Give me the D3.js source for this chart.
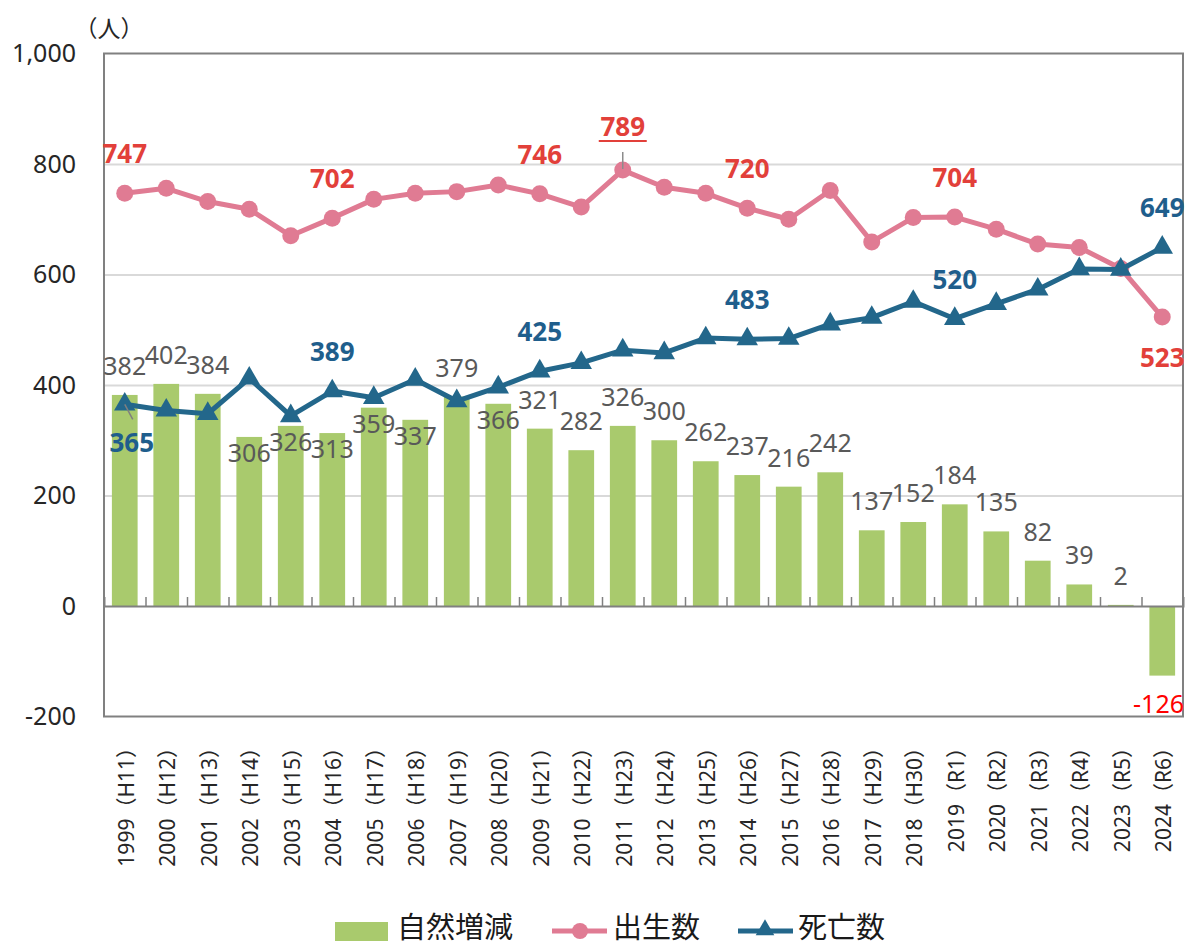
<!DOCTYPE html>
<html>
<head>
<meta charset="utf-8">
<script src="https://cdn.jsdelivr.net/npm/d3@7"></script>
<style>
  body { margin: 0; background: #fff; }
  svg { display: block; }
</style>
</head>
<body>
<svg id="chart" width="1187" height="945"></svg>
<script>
// data
const years = [1999, 2000, 2001, 2002, 2003, 2004, 2005, 2006, 2007, 2008, 2009, 2010, 2011,
  2012, 2013, 2014, 2015, 2016, 2017, 2018, 2019, 2020, 2021, 2022, 2023, 2024];
const eras = ['H11', 'H12', 'H13', 'H14', 'H15', 'H16', 'H17', 'H18', 'H19', 'H20', 'H21', 'H22', 'H23',
  'H24', 'H25', 'H26', 'H27', 'H28', 'H29', 'H30', 'R1', 'R2', 'R3', 'R4', 'R5', 'R6'];
const naturalChange = [382, 402, 384, 306, 326, 313, 359, 337, 379, 366, 321, 282, 326,
  300, 262, 237, 216, 242, 137, 152, 184, 135, 82, 39, 2, -126];
const births = [747, 756, 732, 718, 670, 702, 736, 747, 750, 762, 746, 722, 789,
  758, 747, 720, 700, 752, 659, 703, 704, 682, 655, 649, 611, 523];
const deaths = [365, 354, 348, 412, 344, 389, 377, 410, 371, 396, 425, 440, 463,
  458, 485, 483, 484, 510, 522, 551, 520, 547, 573, 610, 609, 649];
const yTicks = [-200, 0, 200, 400, 600, 800, 1000];
const seriesNames = ['自然増減', '出生数', '死亡数'];
const unitLabel = '（人）';

// which points get a value label on the lines
const birthLabelYears = [1999, 2004, 2009, 2011, 2014, 2019, 2024];
const deathLabelYears = [1999, 2004, 2009, 2014, 2019, 2024];
// bar labels that sit just under the bar top instead of above it
const barLabelsInside = new Set([2002, 2003, 2004, 2005, 2006, 2008]);

const colors = {
  bar: '#a9ca6d',
  birth: '#e07b93',
  death: '#23678b',
  birthText: '#e2403a',
  deathText: '#1f5e8c',
  barText: '#595959',
  grid: '#d9d9d9',
  frame: '#808080'
};

const svg = d3.select('#chart');
const plotLeft = 104, plotRight = 1183, plotTop = 53.5, plotBottom = 716.5;

const cats = years.map((y, i) => `${y}（${eras[i]}）`);
const x = d3.scaleBand().domain(cats).range([plotLeft, plotRight]).padding(0);
const y = d3.scaleLinear().domain([-200, 1000]).range([plotBottom, plotTop]);
const cx = i => x(cats[i]) + x.bandwidth() / 2;

const rows = years.map((yr, i) => ({
  i, year: yr, cat: cats[i], nat: naturalChange[i], birth: births[i], death: deaths[i]
}));

// gridlines
svg.append('g')
  .attr('transform', `translate(${plotLeft},0)`)
  .call(d3.axisLeft(y).tickValues([200, 400, 600, 800]).tickSize(-(plotRight - plotLeft)).tickFormat(''))
  .call(g => g.select('.domain').remove())
  .call(g => g.selectAll('line').attr('stroke', colors.grid).attr('stroke-width', 2));

// bars
const bw = x.bandwidth() * 0.62;
svg.append('g').selectAll('rect')
  .data(rows)
  .join('rect')
  .attr('x', d => cx(d.i) - bw / 2)
  .attr('y', d => y(Math.max(0, d.nat)))
  .attr('width', bw)
  .attr('height', d => Math.abs(y(d.nat) - y(0)))
  .attr('fill', colors.bar);

// frame
svg.append('rect')
  .attr('x', plotLeft).attr('y', plotTop)
  .attr('width', plotRight - plotLeft).attr('height', plotBottom - plotTop)
  .attr('fill', 'none')
  .attr('stroke', colors.frame)
  .attr('stroke-width', 2);

// zero line with category ticks pointing up
const boundary = d3.scaleLinear().domain([0, cats.length]).range([plotLeft, plotRight]);
svg.append('g')
  .attr('transform', `translate(0,${y(0)})`)
  .call(d3.axisBottom(boundary).tickValues(d3.range(1, cats.length)).tickSize(-9).tickFormat(''))
  .call(g => g.select('.domain').attr('stroke', colors.frame).attr('stroke-width', 2))
  .call(g => g.selectAll('.tick line').attr('stroke', colors.frame).attr('stroke-width', 1.5));

// y axis labels
const fmt = d3.format(',');
svg.append('g')
  .attr('transform', `translate(${plotLeft},0)`)
  .call(d3.axisLeft(y).tickValues(yTicks).tickSize(0).tickPadding(28)
    .tickFormat(d => (d < 0 ? '-' : '') + fmt(Math.abs(d))))
  .call(g => g.select('.domain').remove())
  .call(g => g.selectAll('text')
    .attr('font-family', '"Noto Sans", sans-serif')
    .attr('font-size', 25)
    .attr('fill', '#262626'));

svg.append('text')
  .attr('x', 109).attr('y', 37)
  .attr('text-anchor', 'middle')
  .attr('font-family', '"Noto Sans CJK JP", sans-serif')
  .attr('font-size', 23)
  .attr('fill', '#262626')
  .text(unitLabel);

// x labels, rotated
svg.append('g').selectAll('text')
  .data(rows)
  .join('text')
  .attr('transform', d => `translate(${cx(d.i) + 9},737) rotate(-90)`)
  .attr('text-anchor', 'end')
  .attr('font-family', '"Noto Sans", "Noto Sans CJK JP", sans-serif')
  .attr('font-size', 21)
  .attr('fill', '#262626')
  .text(d => d.cat);

// lines
const birthLine = d3.line().x(d => cx(d.i)).y(d => y(d.birth));
const deathLine = d3.line().x(d => cx(d.i)).y(d => y(d.death));

svg.append('path')
  .datum(rows)
  .attr('d', birthLine)
  .attr('fill', 'none')
  .attr('stroke', colors.birth)
  .attr('stroke-width', 5)
  .attr('stroke-linejoin', 'round');

svg.append('g').selectAll('circle')
  .data(rows)
  .join('circle')
  .attr('cx', d => cx(d.i))
  .attr('cy', d => y(d.birth))
  .attr('r', 8.5)
  .attr('fill', colors.birth);

svg.append('path')
  .datum(rows)
  .attr('d', deathLine)
  .attr('fill', 'none')
  .attr('stroke', colors.death)
  .attr('stroke-width', 5)
  .attr('stroke-linejoin', 'round');

const tri = d3.symbol().type(d3.symbolTriangle).size(200);
svg.append('g').selectAll('path')
  .data(rows)
  .join('path')
  .attr('transform', d => `translate(${cx(d.i)},${y(d.death)})`)
  .attr('d', tri)
  .attr('fill', colors.death);

// bar value labels
svg.append('g').selectAll('text')
  .data(rows)
  .join('text')
  .attr('x', d => d.nat < 0 ? plotRight + 1 : cx(d.i))
  .attr('y', d => {
    if (d.nat < 0) return 713;
    return barLabelsInside.has(d.year) ? y(d.nat) + 25 : y(d.nat) - 20;
  })
  .attr('text-anchor', d => d.nat < 0 ? 'end' : 'middle')
  .attr('font-family', '"Noto Sans", sans-serif')
  .attr('font-size', 25)
  .attr('fill', d => d.nat < 0 ? '#ff0000' : colors.barText)
  .text(d => d.nat);

// leader lines
const i365 = years.indexOf(1999);
svg.append('line')
  .attr('x1', cx(i365)).attr('y1', y(deaths[i365]))
  .attr('x2', cx(i365) + 8).attr('y2', y(deaths[i365]) + 15)
  .attr('stroke', '#7f7f7f').attr('stroke-width', 1.5);
const i789 = years.indexOf(2011);
svg.append('line')
  .attr('x1', cx(i789)).attr('y1', y(births[i789]) - 18)
  .attr('x2', cx(i789)).attr('y2', y(births[i789]) - 1)
  .attr('stroke', '#8c8c8c').attr('stroke-width', 1.5);

// line value labels
const birthLab = rows.filter(d => birthLabelYears.includes(d.year));
svg.append('g').selectAll('text')
  .data(birthLab)
  .join('text')
  .attr('x', d => cx(d.i))
  .attr('y', d => {
    if (d.year === 2024) return y(d.birth) + 50;
    if (d.year === 2011) return y(d.birth) - 34;
    return y(d.birth) - 30;
  })
  .attr('text-anchor', 'middle')
  .attr('font-family', '"Noto Sans", sans-serif')
  .attr('font-weight', 'bold')
  .attr('font-size', 26)
  .attr('fill', colors.birthText)
  .text(d => d.birth);

svg.append('line')
  .attr('x1', cx(i789) - 24).attr('x2', cx(i789) + 24)
  .attr('y1', y(births[i789]) - 29).attr('y2', y(births[i789]) - 29)
  .attr('stroke', colors.birthText).attr('stroke-width', 2);

const deathLab = rows.filter(d => deathLabelYears.includes(d.year));
svg.append('g').selectAll('text')
  .data(deathLab)
  .join('text')
  .attr('x', d => d.year === 1999 ? cx(d.i) + 7 : cx(d.i))
  .attr('y', d => d.year === 1999 ? y(d.death) + 48 : y(d.death) - 30)
  .attr('text-anchor', 'middle')
  .attr('font-family', '"Noto Sans", sans-serif')
  .attr('font-weight', 'bold')
  .attr('font-size', 26)
  .attr('fill', colors.deathText)
  .text(d => d.death);

// legend
const lg = svg.append('g').attr('font-family', '"Noto Sans CJK JP", sans-serif')
  .attr('font-size', 29).attr('fill', '#1a1a1a');
lg.append('rect').attr('x', 335).attr('y', 922).attr('width', 53).attr('height', 19).attr('fill', colors.bar);
lg.append('text').attr('x', 397).attr('y', 938).text(seriesNames[0]);

lg.append('line').attr('x1', 552).attr('x2', 607).attr('y1', 931).attr('y2', 931)
  .attr('stroke', colors.birth).attr('stroke-width', 5);
lg.append('circle').attr('cx', 580).attr('cy', 931).attr('r', 8).attr('fill', colors.birth);
lg.append('text').attr('x', 613).attr('y', 938).text(seriesNames[1]);

lg.append('line').attr('x1', 738).attr('x2', 793).attr('y1', 931).attr('y2', 931)
  .attr('stroke', colors.death).attr('stroke-width', 5);
lg.append('path').attr('transform', 'translate(765,930)').attr('d', d3.symbol().type(d3.symbolTriangle).size(150)).attr('fill', colors.death);
lg.append('text').attr('x', 798).attr('y', 938).text(seriesNames[2]);
</script>
</body>
</html>
